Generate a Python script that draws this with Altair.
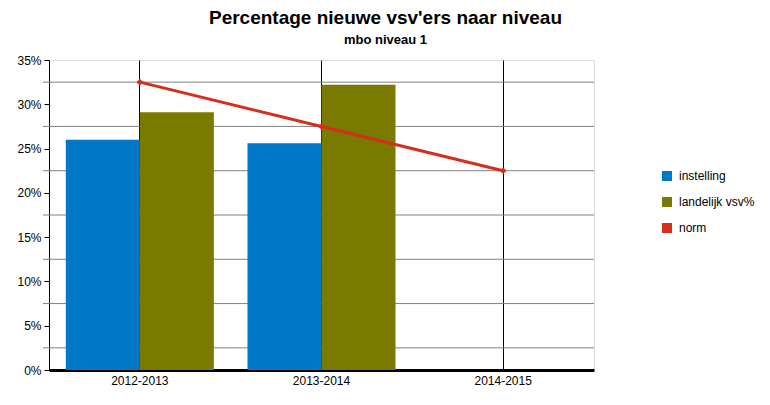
import altair as alt
import pandas as pd

years = ["2012-2013", "2013-2014", "2014-2015"]
instelling = [26.0, 25.6, None]
landelijk = [29.1, 32.2, None]
norm = [32.5, 27.5, 22.5]
series_names = ["instelling", "landelijk vsv%", "norm"]
colors = ["#0078C8", "#7A7A00", "#D62D1F"]
grid_levels = [2.5, 7.5, 12.5, 17.5, 22.5, 27.5, 32.5]
y_ticks = [0, 5, 10, 15, 20, 25, 30, 35]

bar_rows = []
for y, a, b in zip(years, instelling, landelijk):
    if a is not None:
        bar_rows.append({"year": y, "series": "instelling", "value": a})
    if b is not None:
        bar_rows.append({"year": y, "series": "landelijk vsv%", "value": b})
bars_df = pd.DataFrame(bar_rows)
norm_df = pd.DataFrame({"year": years, "value": norm})
grid_df = pd.DataFrame({"level": grid_levels})

W, H = 545, 310
xscale = alt.Scale(domain=years, paddingInner=0.185, paddingOuter=0.0925)
yscale = alt.Scale(domain=[0, 35], nice=False)
yaxis = alt.Axis(title=None, values=y_ticks, grid=False,
                 labelExpr="datum.value + '%'",
                 tickColor="black", tickSize=5, domainColor="black",
                 labelFontSize=12, labelColor="black", labelPadding=3,
                 labelFont="Liberation Sans")

grid = alt.Chart(grid_df).mark_rule(color="#808080", strokeWidth=1).encode(
    y=alt.Y("level:Q", scale=yscale, axis=yaxis),
    x=alt.value(-6),
    x2=alt.value(W),
)

bars = alt.Chart(bars_df).mark_bar().encode(
    x=alt.X("year:N", scale=xscale, sort=years,
            axis=alt.Axis(title=None, labelAngle=0, ticks=False, grid=True,
                          gridColor="black", gridOpacity=1, gridWidth=1,
                          domainColor="black", domainWidth=3,
                          labelFontSize=12, labelColor="black", labelPadding=5,
                          labelFont="Liberation Sans")),
    xOffset=alt.XOffset("series:N", sort=series_names[:2],
                        scale=alt.Scale(paddingInner=0, paddingOuter=0)),
    y=alt.Y("value:Q", scale=yscale, axis=yaxis),
    color=alt.Color("series:N",
                    scale=alt.Scale(domain=series_names, range=colors),
                    legend=alt.Legend(title=None, orient="none", legendX=612,
                                      legendY=110, symbolType="square",
                                      symbolSize=100, symbolStrokeWidth=0,
                                      labelFontSize=12, labelOffset=6,
                                      labelColor="black", rowPadding=14,
                                      labelFont="Liberation Sans")),
)

line = alt.Chart(norm_df).mark_line(
    color=colors[2], strokeWidth=3,
    point=alt.OverlayMarkDef(color=colors[2], shape="diamond", size=45, filled=True),
).encode(
    x=alt.X("year:N", scale=xscale, sort=years),
    y=alt.Y("value:Q", scale=yscale, axis=yaxis),
)

chart = alt.layer(grid, bars, line).properties(
    width=W,
    height=H,
    autosize=alt.AutoSizeParams(type="none"),
    padding={"left": 49, "top": 60, "right": 176, "bottom": 35},
    title=alt.TitleParams(
        text="Percentage nieuwe vsv'ers naar niveau",
        subtitle="mbo niveau 1",
        fontSize=19, fontWeight="bold", color="black",
        subtitleFontSize=13, subtitleFontWeight="bold", subtitleColor="black",
        font="Liberation Sans", subtitleFont="Liberation Sans",
        anchor="middle", dx=64, offset=7, subtitlePadding=6,
    ),
).configure_view(stroke="black", strokeWidth=1).configure(background="white")

chart.save("out.html", embed_options={"renderer": "svg", "actions": False})
